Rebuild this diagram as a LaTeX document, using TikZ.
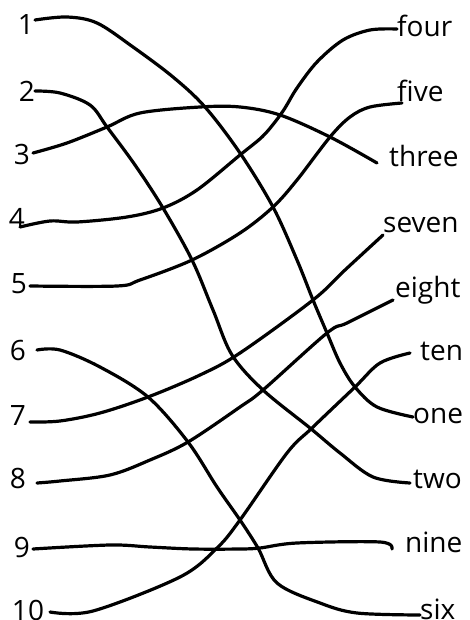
\documentclass[tikz,border=0pt]{standalone}
\usepackage{fontspec}
\setmainfont{Open Sans}
\begin{document}
\begin{tikzpicture}[x=1pt,y=-1pt,
  wire/.style={line width=3.2pt,line cap=round,line join=round,smooth,tension=0.55},
  lbl/.style={inner sep=0pt,font=\fontsize{28}{30}\selectfont}]
\useasboundingbox (0,0) rectangle (469,620);
% left labels
\node[lbl,anchor=base] (n1) at (26,35) {1};
\node[lbl,anchor=base] (n2) at (27,102) {2};
\node[lbl,anchor=base] (n3) at (22,165) {3};
\node[lbl,anchor=base] (n4) at (17,228) {4};
\node[lbl,anchor=base] (n5) at (19,293) {5};
\node[lbl,anchor=base] (n6) at (18,360) {6};
\node[lbl,anchor=base] (n7) at (18,425) {7};
\node[lbl,anchor=base] (n8) at (18,488) {8};
\node[lbl,anchor=base] (n9) at (22,557) {9};
\node[lbl,anchor=base] (n10) at (28,620) {10};
% right labels
\node[lbl,anchor=base west] (w4) at (397,37) {four};
\node[lbl,anchor=base west] (w5) at (397,102) {five};
\node[lbl,anchor=base west] (w3) at (389,167) {three};
\node[lbl,anchor=base west] (w7) at (383,233) {seven};
\node[lbl,anchor=base west] (w8) at (395,297) {eight};
\node[lbl,anchor=base west] (w10) at (420,360) {ten};
\node[lbl,anchor=base west] (w1) at (413,423) {one};
\node[lbl,anchor=base west] (w2) at (413,488) {two};
\node[lbl,anchor=base west] (w9) at (405,552) {nine};
\node[lbl,anchor=base west] (w6) at (420,619) {six};
% wire ends
\coordinate (s1) at (35,20);  \coordinate (e1) at (413,417);
\coordinate (s2) at (35,91);  \coordinate (e2) at (410,483);
\coordinate (s3) at (33,153); \coordinate (e3) at (377,163);
\coordinate (s4) at (20,227); \coordinate (e4) at (397,29);
\coordinate (s5) at (30,286); \coordinate (e5) at (402,103);
\coordinate (s6) at (37,350); \coordinate (e6) at (420,615);
\coordinate (s7) at (30,422); \coordinate (e7) at (383,235);
\coordinate (s8) at (37,483); \coordinate (e8) at (393,300);
\coordinate (s9) at (33,549); \coordinate (e9) at (392,549);
\coordinate (s10) at (50,612); \coordinate (e10) at (410,353);
% wires
\draw[wire] plot coordinates {(s1) (67,17) (97,23) (133,47) (173,77) (205,107) (240,153) (273,207) (297,260) (313,300) (327,333) (340,363) (355,387) (377,407) (e1)};
\draw[wire] plot coordinates {(s2) (60,93) (90,105) (107,127) (135,165) (163,208) (192,260) (213,310) (232,355) (263,390) (310,428) (340,453) (373,477) (e2)};
\draw[wire] plot coordinates {(s3) (67,143) (107,127) (140,113) (200,107) (240,107) (280,115) (330,137) (e3)};
\draw[wire] plot coordinates {(s4) (50,221) (77,222) (127,217) (163,208) (197,190) (240,155) (262,137) (275,122) (285,108) (297,88) (317,62) (343,40) (370,30) (e4)};
\draw[wire] plot coordinates {(s5) (117,286) (140,280) (192,260) (240,233) (273,207) (297,180) (330,137) (350,117) (370,107) (e5)};
\draw[wire] plot coordinates {(s6) (60,350) (100,367) (148,397) (188,442) (217,487) (240,520) (258,548) (277,583) (320,603) (357,613) (e6)};
\draw[wire] plot coordinates {(s7) (60,421) (100,413) (148,397) (200,375) (240,353) (313,300) (345,270) (e7)};
\draw[wire] plot coordinates {(s8) (60,481) (110,475) (150,460) (188,442) (240,407) (263,390) (327,333) (347,323) (e8)};
\draw[wire] plot coordinates {(s9) (110,545) (150,547) (193,549) (240,549) (260,548) (297,543) (380,542) (e9)};
\draw[wire] plot coordinates {(s10) (93,611) (180,577) (217,548) (240,520) (287,453) (312,428) (355,387) (380,363) (e10)};
\end{tikzpicture}
\end{document}
